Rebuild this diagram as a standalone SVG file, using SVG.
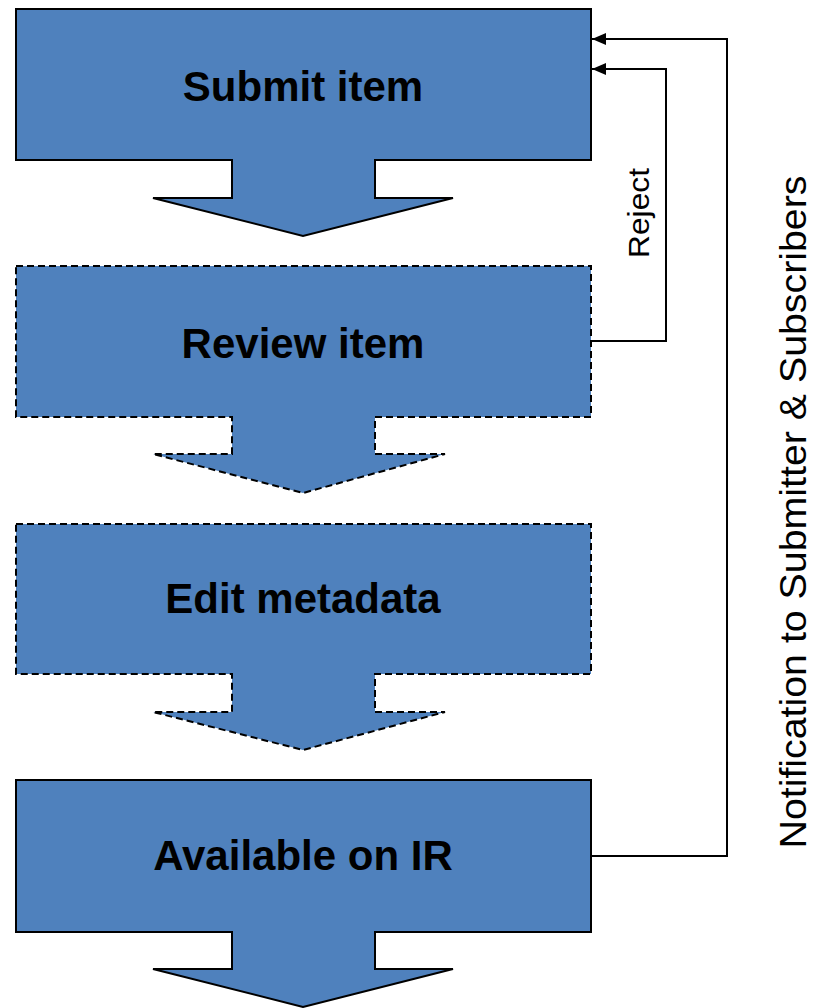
<svg xmlns="http://www.w3.org/2000/svg" width="816" height="1008" viewBox="0 0 816 1008">
<style>
.solid{fill:#4f81bd;stroke:#000;stroke-width:2;stroke-linejoin:miter}
.dashed{fill:#4f81bd;stroke:#000;stroke-width:2;stroke-dasharray:7 4}
.label{font-family:"Liberation Sans",Arial,sans-serif;font-weight:bold;font-size:42px;fill:#000;text-anchor:middle}
.side{font-family:"Liberation Sans",Arial,sans-serif;fill:#000;text-anchor:middle}
.conn{fill:none;stroke:#000;stroke-width:2}
</style>
<defs>
<marker id="arr" markerWidth="14" markerHeight="12" refX="14" refY="6" orient="auto" markerUnits="userSpaceOnUse" viewBox="0 0 14 12">
<path d="M0,0 L14,6 L0,12 Z" fill="#000"/>
</marker>
</defs>
<g id="node-submit">
<path class="solid" d="M16,9 H591 V160 H375 V198 H453 L303,236 L153,198 H232 V160 H16 Z"/>
<text class="label" x="303" y="101">Submit item</text>
</g>
<g id="node-review">
<path class="dashed" d="M16,266 H591 V417 H375 V454 H445 L303,493 L153,454 H232 V417 H16 Z"/>
<text class="label" x="303" y="358">Review item</text>
</g>
<g id="node-edit">
<path class="dashed" d="M16,524 H591 V674 H375 V712 H445 L303,750 L153,712 H232 V674 H16 Z"/>
<text class="label" x="303" y="613">Edit metadata</text>
</g>
<g id="node-available">
<path class="solid" d="M16,780 H591 V932 H375 V969 H453 L303,1007 L153,969 H232 V932 H16 Z"/>
<text class="label" x="303" y="870">Available on IR</text>
</g>
<g id="connectors">
<path class="conn" d="M591,341 H666 V69 H592" marker-end="url(#arr)"/>
<path class="conn" d="M591,856 H727 V39 H592" marker-end="url(#arr)"/>
</g>
<g id="labels">
<text class="side" font-size="30" transform="translate(649,213) rotate(-90)" textLength="90" lengthAdjust="spacingAndGlyphs">Reject</text>
<text class="side" font-size="36" transform="translate(806,512) rotate(-90)" textLength="673" lengthAdjust="spacingAndGlyphs">Notification to Submitter &amp; Subscribers</text>
</g>
</svg>
